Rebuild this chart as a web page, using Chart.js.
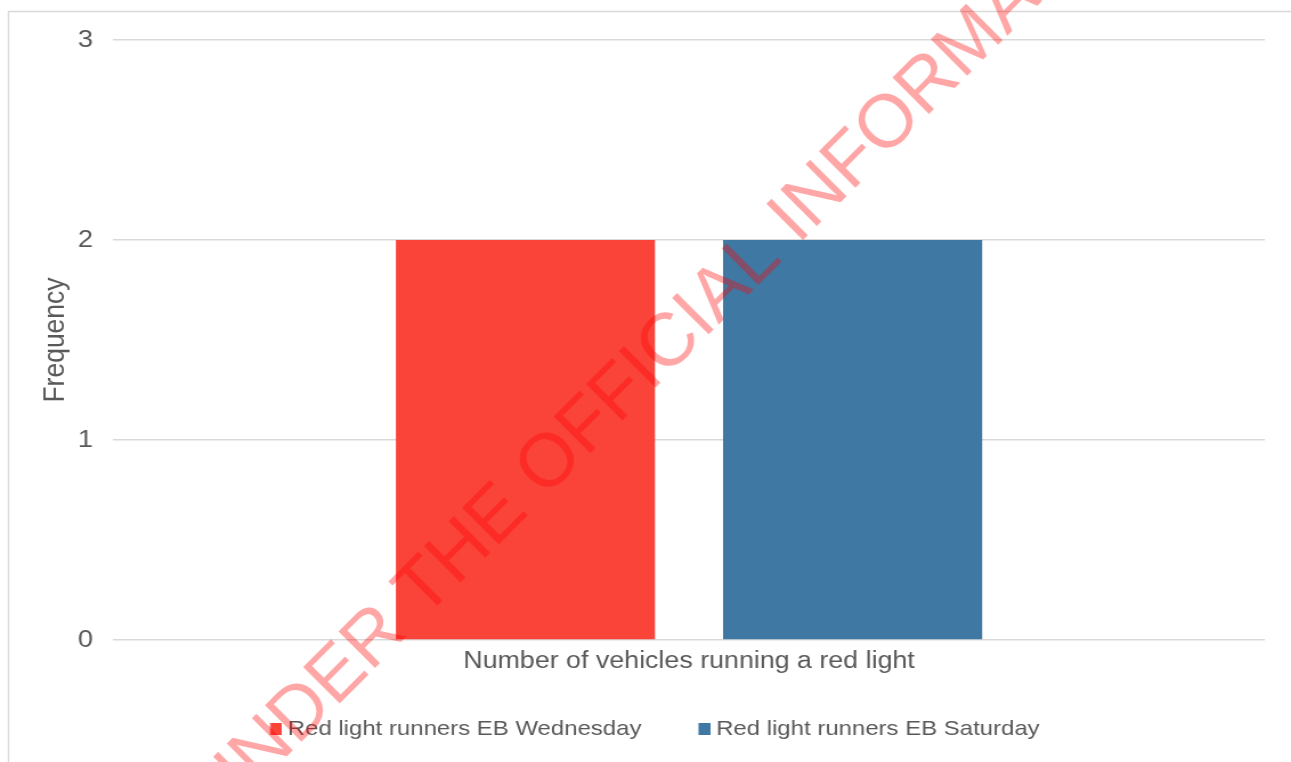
<!DOCTYPE html>
<html>
<head>
<meta charset="utf-8">
<title>Red light runners</title>
<script src="https://cdn.jsdelivr.net/npm/chart.js"></script>
<style>
  html, body { margin: 0; padding: 0; background: #fff; overflow: hidden; }
  /* the sheet is drawn narrow and widened to the page, like the exported chart */
  #chart { display: block; width: 1291px; height: 762px; }
</style>
</head>
<body>
<canvas id="chart" width="1132" height="762" style="width:1291px;height:762px"></canvas>
<script>
const categories = ['Number of vehicles running a red light'];
const seriesNames = ['Red light runners EB Wednesday', 'Red light runners EB Saturday'];
const wednesday = [2];
const saturday = [2];
const yTicks = [0, 1, 2, 3];
const watermark = 'RELEASED UNDER THE OFFICIAL INFORMATION ACT';

const RED = '#fa4339';
const BLUE = '#3f79a3';
const TEXT = '#595959';
const GRID = '#d9d9d9';
const FONT = '"Liberation Sans", Arial, sans-serif';
const STRETCH = 1291 / 1132;   // horizontal widening of the canvas
const BOX = 11;                 // legend item box width (logical px)

Chart.defaults.font.family = FONT;
Chart.defaults.color = TEXT;

// legend swatch: small square placed just left of the label text
function swatch(color) {
  const c = document.createElement('canvas');
  c.width = BOX + 11; c.height = 12;
  const g = c.getContext('2d');
  g.fillStyle = color;
  g.fillRect(BOX + 0.5, 0, 10.5, 12);
  return c;
}

// thin grey frame along the top and left edge, in page pixels
const framePlugin = {
  id: 'frame',
  beforeDraw(chart) {
    const ctx = chart.ctx;
    ctx.save();
    ctx.scale(1 / STRETCH, 1);
    ctx.strokeStyle = GRID;
    ctx.lineWidth = 1.5;
    ctx.beginPath();
    ctx.moveTo(1291, 11.5);
    ctx.lineTo(8.5, 11.5);
    ctx.lineTo(8.5, chart.height);
    ctx.stroke();
    ctx.restore();
  }
};

// diagonal release stamp, laid over the page (not widened)
const stampPlugin = {
  id: 'stamp',
  afterDraw(chart) {
    const ctx = chart.ctx;
    ctx.save();
    ctx.scale(1 / STRETCH, 1);
    ctx.font = '75px ' + FONT;
    ctx.fillStyle = 'rgba(255, 0, 0, 0.35)';
    ctx.textAlign = 'left';
    ctx.textBaseline = 'alphabetic';
    // origin sits on the first I of OFFICIAL
    ctx.translate(650.6, 392.4);
    ctx.rotate(-45 * Math.PI / 180);
    const lead = ctx.measureText('RELEASED UNDER THE OFF').width;
    ctx.fillText(watermark, -lead, 0);
    ctx.restore();
  }
};

new Chart(document.getElementById('chart'), {
  type: 'bar',
  data: {
    labels: categories,
    datasets: [
      { label: seriesNames[0], data: wednesday, backgroundColor: RED },
      { label: seriesNames[1], data: saturday, backgroundColor: BLUE }
    ]
  },
  options: {
    responsive: false,
    devicePixelRatio: 1,
    animation: false,
    categoryPercentage: 0.568,
    barPercentage: 0.792,
    layout: { padding: { left: 33.2, right: 22.8, top: 40, bottom: 12.5 } },
    scales: {
      x: {
        grid: { display: false, drawTicks: false },
        border: { display: false },
        ticks: { padding: 7, color: TEXT, font: { size: 23.5 } },
        afterFit: s => { s.height = 34.5; }
      },
      y: {
        min: 0,
        max: 3,
        afterBuildTicks: s => { s.ticks = yTicks.map(v => ({ value: v })); },
        grid: { color: GRID, lineWidth: 1.5, drawTicks: false },
        border: { display: false },
        ticks: { padding: 17.6, color: TEXT, font: { size: 24 } },
        title: { display: true, text: 'Frequency', color: TEXT, padding: 0, font: { size: 26.5 } },
        afterFit: s => { s.width = 65.9; }
      }
    },
    plugins: {
      tooltip: { enabled: false },
      legend: {
        position: 'bottom',
        labels: {
          usePointStyle: true,
          pointStyleWidth: BOX,
          boxHeight: 12,
          padding: 44,
          color: TEXT,
          font: { size: 21 },
          generateLabels(chart) {
            const items = Chart.defaults.plugins.legend.labels.generateLabels(chart);
            items.forEach((it, i) => { it.pointStyle = swatch(i === 0 ? RED : BLUE); });
            return items;
          }
        }
      }
    }
  },
  plugins: [framePlugin, stampPlugin]
});
</script>
</body>
</html>
